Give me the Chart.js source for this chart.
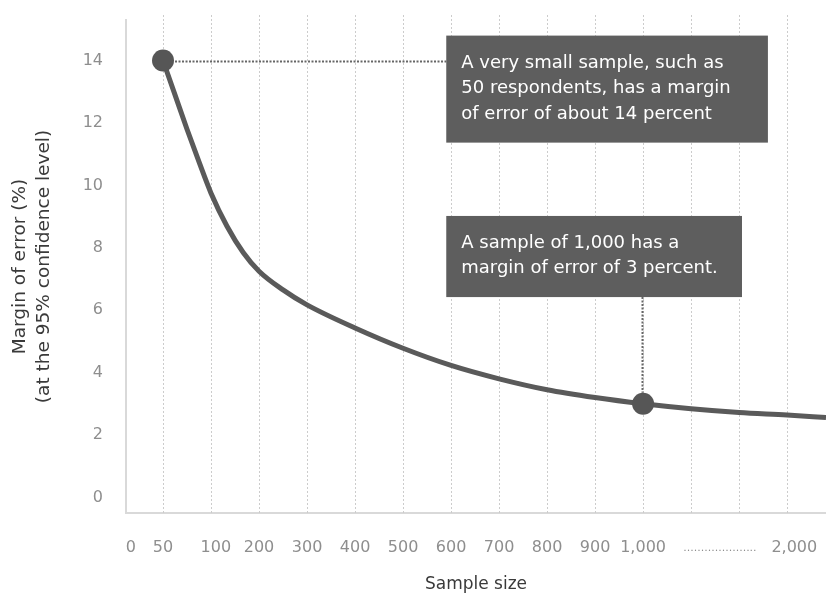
<!DOCTYPE html>
<html>
<head>
<meta charset="utf-8">
<script src="https://cdn.jsdelivr.net/npm/chart.js@4.4.1/dist/chart.umd.min.js"></script>
<style>
  html, body { margin: 0; padding: 0; background: #ffffff; }
  canvas { display: block; }
</style>
</head>
<body>
<canvas id="chart" width="826" height="595"></canvas>
<script>
// Slots along the broken sample-size axis:
// slot 1 = 50, slot 2 = 100, slot 3 = 200 ... slot 11 = 1,000, then the run up to 2,000
const curveSlots    = [1, 1.25, 1.5, 1.75, 2, 2.33, 2.67, 3, 3.5, 4, 5, 6, 7, 8, 9, 10, 11, 12, 13, 14, 14.81];
const marginOfError = [14, 12.9, 11.8, 10.75, 9.75, 8.7, 7.85, 7.25, 6.65, 6.17, 5.43, 4.78, 4.23, 3.8, 3.45, 3.2, 3.0, 2.84, 2.72, 2.64, 2.56];

// The two samples called out in the notes: 50 respondents and 1,000 respondents
const highlightSlots   = [1, 11];
const highlightMargins = [14, 3];

// Dotted vertical guides
const gridSlots = [1, 2, 3, 4, 5, 6, 7, 8, 9, 10, 11, 12, 13, 14];

// Sample-size tick labels and where they sit on the axis
const xTickSlots  = [0.33, 1, 2.1, 3, 4, 5, 6, 7, 8, 9, 10, 11, 12.6, 14.15];
const xTickLabels = ['0', '50', '100', '200', '300', '400', '500', '600', '700', '800', '900', '1,000',
                     '.....................', '2,000'];
const yTickValues = [0, 2, 4, 6, 8, 10, 12, 14];

const noteLines50   = ['A very small sample, such as', '50 respondents, has a margin', 'of error of about 14 percent'];
const noteLines1000 = ['A sample of 1,000 has a', 'margin of error of 3 percent.'];

const INK = '#5a5a5a';

Chart.defaults.font.family = '"DejaVu Sans", sans-serif';

// Dotted vertical guides behind the curve
const slotGrid = {
  id: 'slotGrid',
  beforeDatasetsDraw(chart) {
    const { ctx, chartArea, scales: { x } } = chart;
    ctx.save();
    ctx.strokeStyle = '#cccccc';
    ctx.lineWidth = 1;
    ctx.setLineDash([2, 2]);
    gridSlots.forEach(s => {
      const px = Math.round(x.getPixelForValue(s)) + 0.5;
      ctx.beginPath();
      ctx.moveTo(px, chartArea.top - 5);
      ctx.lineTo(px, chartArea.bottom);
      ctx.stroke();
    });
    ctx.restore();
  }
};

// Dark note boxes with dotted leader lines to the highlighted points
const notes = {
  id: 'notes',
  beforeDatasetsDraw(chart, args, opts) {
    const { ctx, scales: { x, y } } = chart;
    ctx.save();
    ctx.strokeStyle = '#666666';
    ctx.lineWidth = 2;
    ctx.setLineDash([2, 1.5]);
    opts.boxes.forEach(b => {
      const px = x.getPixelForValue(b.point[0]);
      const py = y.getPixelForValue(b.point[1]);
      ctx.beginPath();
      if (b.leader === 'horizontal') {
        ctx.moveTo(px + 12, Math.round(py) + 0.5);
        ctx.lineTo(x.getPixelForValue(b.left), Math.round(py) + 0.5);
      } else {
        ctx.moveTo(Math.round(px) - 0.5, y.getPixelForValue(b.bottom));
        ctx.lineTo(Math.round(px) - 0.5, py - 11);
      }
      ctx.stroke();
    });
    ctx.restore();
  },
  afterDatasetsDraw(chart, args, opts) {
    const { ctx, scales: { x, y } } = chart;
    ctx.save();
    opts.boxes.forEach(b => {
      const l = x.getPixelForValue(b.left), r = x.getPixelForValue(b.right);
      const t = y.getPixelForValue(b.top), btm = y.getPixelForValue(b.bottom);
      ctx.fillStyle = '#5e5e5e';
      ctx.fillRect(l, t, r - l, btm - t);
      ctx.fillStyle = '#ffffff';
      ctx.font = '18px "DejaVu Sans", sans-serif';
      ctx.textAlign = 'left';
      ctx.textBaseline = 'alphabetic';
      b.lines.forEach((line, i) => {
        ctx.fillText(line, l + 15, t + 32 + i * 25.5);
      });
    });
    ctx.restore();
  }
};

new Chart(document.getElementById('chart'), {
  type: 'line',
  data: {
    datasets: [
      {
        data: curveSlots.map((s, i) => ({ x: s, y: marginOfError[i] })),
        borderColor: INK,
        borderWidth: 5,
        pointRadius: 0,
        cubicInterpolationMode: 'monotone',
        fill: false,
        order: 2
      },
      {
        data: highlightSlots.map((s, i) => ({ x: s, y: highlightMargins[i] })),
        showLine: false,
        pointRadius: 11,
        pointBackgroundColor: '#565656',
        pointBorderWidth: 0,
        order: 1
      }
    ]
  },
  options: {
    responsive: false,
    devicePixelRatio: 1,
    animation: false,
    events: [],
    layout: { autoPadding: false, padding: { top: 20, right: 0, bottom: 0, left: 0 } },
    plugins: {
      legend: { display: false },
      tooltip: { enabled: false },
      notes: {
        boxes: [
          { left: 6.9, right: 13.6, top: 14.8, bottom: 11.37, point: [1, 14], leader: 'horizontal', lines: noteLines50 },
          { left: 6.9, right: 13.06, top: 9.02, bottom: 6.42, point: [11, 3], leader: 'vertical', lines: noteLines1000 }
        ]
      }
    },
    scales: {
      x: {
        type: 'linear',
        min: 0.229,
        max: 14.81,
        grid: { display: false, drawTicks: false },
        border: { display: true, color: '#d9d9d9', width: 2 },
        afterBuildTicks: scale => { scale.ticks = xTickSlots.map(v => ({ value: v })); },
        afterFit: scale => { scale.height = 82; scale.paddingLeft = 0; scale.paddingRight = 0; },
        ticks: {
          autoSkip: false,
          maxRotation: 0,
          padding: 25,
          color: '#8e8e8e',
          font: ctx => (ctx.index === 12 ? { size: 11, lineHeight: 1.9 } : { size: 16, lineHeight: 1.2 }),
          callback: (value, index) => xTickLabels[index]
        },
        title: {
          display: true,
          text: 'Sample size',
          color: '#3a3a3a',
          font: { size: 17, lineHeight: 1.18 },
          padding: { top: 0, bottom: 0 }
        }
      },
      y: {
        type: 'linear',
        min: -0.5,
        max: 15.3,
        grid: { display: false, drawTicks: false },
        border: { display: true, color: '#d9d9d9', width: 2 },
        afterBuildTicks: scale => { scale.ticks = yTickValues.map(v => ({ value: v })); },
        afterFit: scale => { scale.width = 126; scale.paddingTop = 0; scale.paddingBottom = 0; },
        ticks: {
          padding: 23,
          color: '#8e8e8e',
          font: { size: 16 },
          callback: value => String(value)
        },
        title: {
          display: true,
          text: ['Margin of error (%)', '(at the 95% confidence level)'],
          color: '#3a3a3a',
          font: { size: 18.5, lineHeight: 1.33 },
          padding: { top: 7.7, bottom: 0 }
        }
      }
    }
  },
  plugins: [slotGrid, notes]
});
</script>
</body>
</html>
